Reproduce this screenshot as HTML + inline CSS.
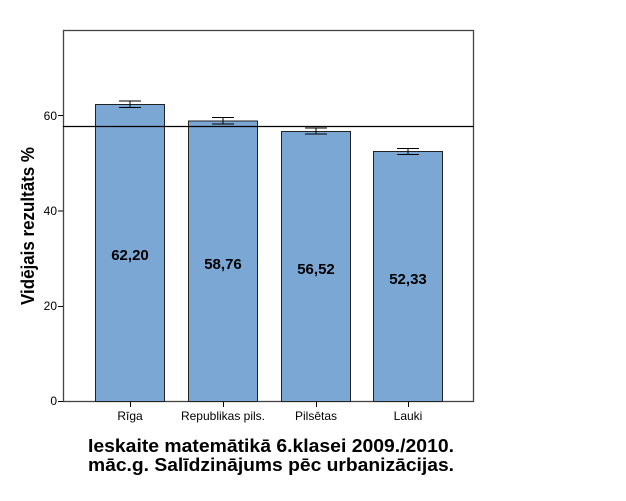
<!DOCTYPE html>
<html><head><meta charset="utf-8"><style>body{margin:0;background:#fff}svg{display:block}</style></head>
<body>
<svg width="626" height="501" xmlns="http://www.w3.org/2000/svg" font-family="Liberation Sans, sans-serif">
<rect width="626" height="501" fill="#fff"/>
<rect x="63.5" y="30.5" width="410" height="371" fill="none" stroke="#444" stroke-width="1.3"/>
<g stroke="#000" stroke-width="1">
<line x1="58" y1="401.5" x2="63" y2="401.5"/>
<line x1="58" y1="306.5" x2="63" y2="306.5"/>
<line x1="58" y1="211" x2="63" y2="211"/>
<line x1="58" y1="115.5" x2="63" y2="115.5"/>
<line x1="130.5" y1="402" x2="130.5" y2="407"/>
<line x1="223.5" y1="402" x2="223.5" y2="407"/>
<line x1="316.5" y1="402" x2="316.5" y2="407"/>
<line x1="408.5" y1="402" x2="408.5" y2="407"/>
</g>
<g font-size="12" text-anchor="end" fill="#000">
<text x="57" y="405">0</text><text x="57" y="310">20</text><text x="57" y="215">40</text><text x="57" y="120">60</text>
</g>
<g fill="#7ba7d5" stroke="#222" stroke-width="1">
<rect x="95.5" y="104.5" width="69" height="297"/>
<rect x="188.5" y="121" width="69" height="280.5"/>
<rect x="281.5" y="131.5" width="69" height="270"/>
<rect x="373.5" y="151.5" width="69" height="250"/>
</g>
<line x1="63" y1="126.5" x2="474" y2="126.5" stroke="#000" stroke-width="1.3"/>
<g stroke="#000" stroke-width="1" fill="none">
<path d="M119 101H141M119 107.5H141M130 101V107.5"/>
<path d="M212 117.5H234M212 124H234M223 117.5V124"/>
<path d="M305 128H327M305 134H327M316 128V134"/>
<path d="M397 148.5H419M397 154.5H419M408 148.5V154.5"/>
</g>
<g font-size="15" font-weight="bold" text-anchor="middle" fill="#000">
<text x="130" y="260">62,20</text><text x="223" y="269">58,76</text>
<text x="316" y="274">56,52</text><text x="408" y="284">52,33</text>
</g>
<g font-size="12" text-anchor="middle" fill="#000">
<text x="130" y="420">Rīga</text><text x="223" y="420">Republikas pils.</text>
<text x="316" y="420">Pilsētas</text><text x="408" y="420">Lauki</text>
</g>
<text transform="translate(34,305) rotate(-90)" font-size="18" font-weight="bold" textLength="158" lengthAdjust="spacingAndGlyphs">Vidējais rezultāts %</text>
<g font-size="18" font-weight="bold">
<text x="88" y="452" textLength="366" lengthAdjust="spacingAndGlyphs">Ieskaite matemātikā 6.klasei 2009./2010.</text>
<text x="88" y="471" textLength="366" lengthAdjust="spacingAndGlyphs">māc.g. Salīdzinājums pēc urbanizācijas.</text>
</g>
</svg>
</body></html>
